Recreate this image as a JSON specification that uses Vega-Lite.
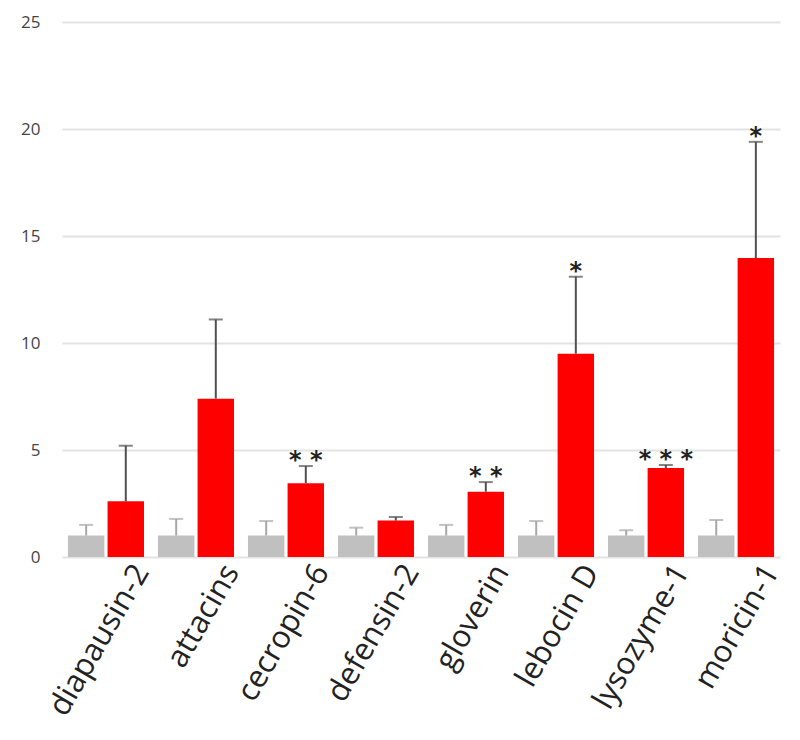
{
  "$schema": "https://vega.github.io/schema/vega-lite/v6.json",
  "autosize": {"type": "none"},
  "width": 718,
  "height": 535,
  "padding": {"left": 62, "top": 22, "right": 20, "bottom": 183},
  "background": "white",
  "config": {"view": {"stroke": null}},
  "data": {"values": [
    {"gene": "diapausin-2", "group": "control", "value": 1, "upper": 1.5, "sig": ""},
    {"gene": "diapausin-2", "group": "treated", "value": 2.6, "upper": 5.2, "sig": ""},
    {"gene": "attacins", "group": "control", "value": 1, "upper": 1.78, "sig": ""},
    {"gene": "attacins", "group": "treated", "value": 7.4, "upper": 11.1, "sig": ""},
    {"gene": "cecropin-6", "group": "control", "value": 1, "upper": 1.68, "sig": ""},
    {"gene": "cecropin-6", "group": "treated", "value": 3.45, "upper": 4.25, "sig": "* *"},
    {"gene": "defensin-2", "group": "control", "value": 1, "upper": 1.37, "sig": ""},
    {"gene": "defensin-2", "group": "treated", "value": 1.7, "upper": 1.87, "sig": ""},
    {"gene": "gloverin", "group": "control", "value": 1, "upper": 1.5, "sig": ""},
    {"gene": "gloverin", "group": "treated", "value": 3.05, "upper": 3.5, "sig": "* *"},
    {"gene": "lebocin D", "group": "control", "value": 1, "upper": 1.68, "sig": ""},
    {"gene": "lebocin D", "group": "treated", "value": 9.5, "upper": 13.1, "sig": "*"},
    {"gene": "lysozyme-1", "group": "control", "value": 1, "upper": 1.25, "sig": ""},
    {"gene": "lysozyme-1", "group": "treated", "value": 4.16, "upper": 4.3, "sig": "* * *"},
    {"gene": "moricin-1", "group": "control", "value": 1, "upper": 1.73, "sig": ""},
    {"gene": "moricin-1", "group": "treated", "value": 13.97, "upper": 19.4, "sig": "*"}
  ]},
  "encoding": {
    "x": {
      "field": "gene", "type": "nominal", "sort": null, "title": null,
      "scale": {"paddingInner": 0.155, "paddingOuter": 0.066},
      "axis": {
        "domain": false, "ticks": false, "labelAngle": -60, "labelAlign": "right",
        "labelBaseline": "middle", "labelFont": "Open Sans", "labelFontSize": 31,
        "labelColor": "#222222", "labelOffset": 36, "labelPadding": 10, "labelOverlap": false,
        "labelLimit": 400
      }
    },
    "xOffset": {"field": "group", "type": "nominal", "scale": {"paddingInner": 0.08, "paddingOuter": 0}}
  },
  "layer": [
    {
      "mark": {"type": "bar"},
      "encoding": {
        "y": {
          "field": "value", "type": "quantitative", "title": null,
          "scale": {"domain": [0, 25], "nice": false},
          "axis": {
            "values": [0, 5, 10, 15, 20, 25], "domain": false, "ticks": false,
            "grid": true, "gridColor": "#e3e3e3", "gridWidth": 2,
            "labelFont": "Open Sans", "labelFontSize": 17, "labelColor": "#444444",
            "labelPadding": 22
          }
        },
        "color": {
          "field": "group", "type": "nominal", "legend": null,
          "scale": {"domain": ["control", "treated"], "range": ["#c0c0c0", "#ff0000"]}
        }
      }
    },
    {
      "mark": {"type": "rule", "strokeWidth": 2},
      "encoding": {
        "y": {"field": "value", "type": "quantitative"},
        "y2": {"field": "upper"},
        "color": {"condition": {"test": "datum.group === 'control'", "value": "#a8a8a8"}, "value": "#505050"}
      }
    },
    {
      "mark": {"type": "tick", "size": 14, "thickness": 2},
      "encoding": {
        "y": {"field": "upper", "type": "quantitative"},
        "color": {"condition": {"test": "datum.group === 'control'", "value": "#a8a8a8"}, "value": "#505050"}
      }
    },
    {
      "mark": {"type": "text", "font": "DejaVu Sans", "fontSize": 24, "fontWeight": "bold", "baseline": "alphabetic", "dy": 2, "color": "#222222"},
      "encoding": {
        "y": {"field": "upper", "type": "quantitative"},
        "text": {"field": "sig"}
      }
    }
  ]
}
